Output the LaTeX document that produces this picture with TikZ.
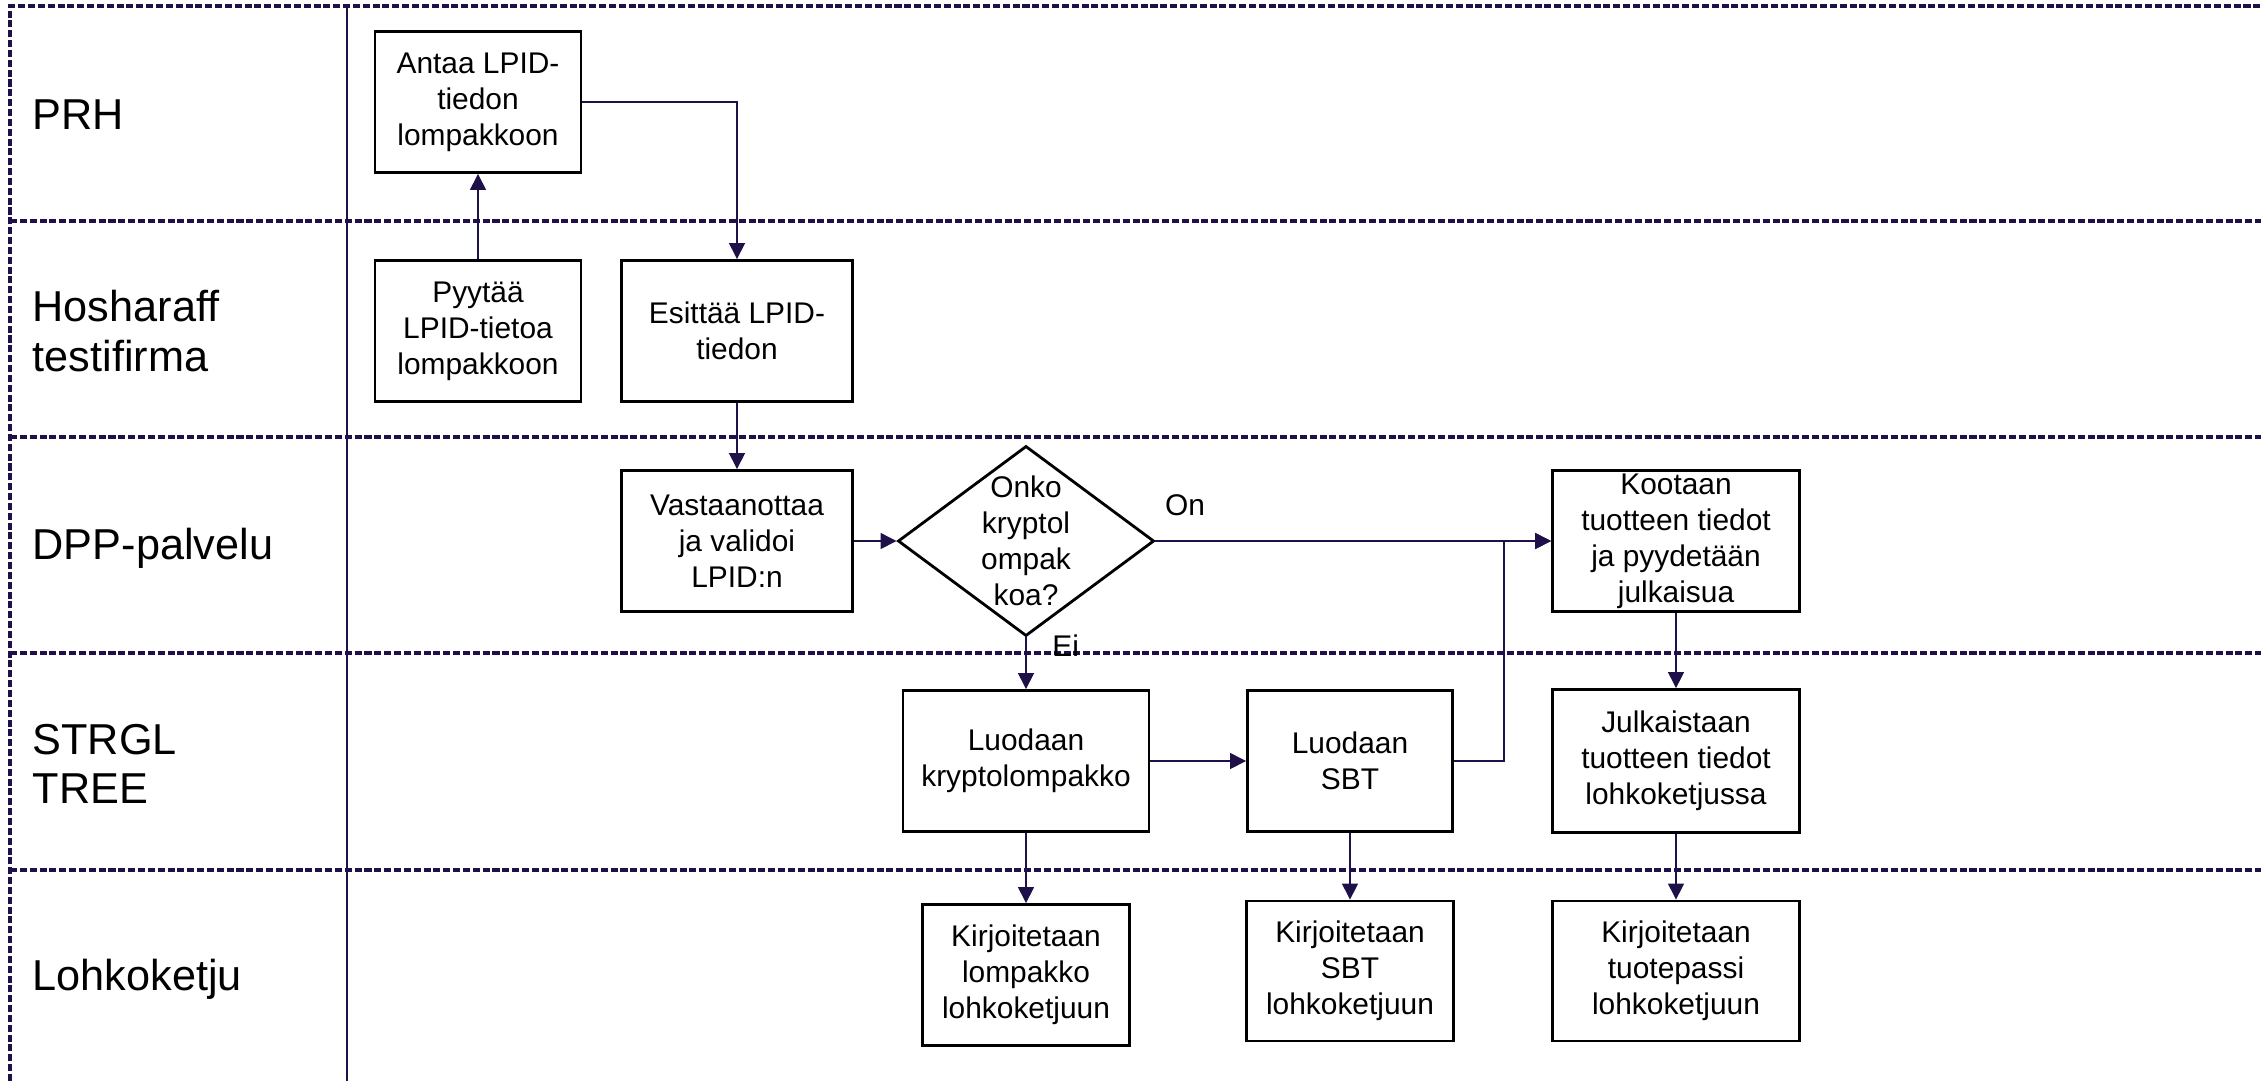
\documentclass[tikz,border=0pt]{standalone}
\usepackage{fontspec}
\setmainfont{Liberation Sans}
\usetikzlibrary{shapes.geometric,arrows.meta}

\definecolor{viiva}{RGB}{32,16,74}
\newcommand{\laatikkofontti}{\fontsize{8.5}{10.2}\selectfont}
\newcommand{\kaistafontti}{\fontsize{12.3}{14}\selectfont}

\tikzset{
  laatikko/.style={draw=black, line width=0.8pt, align=center, inner sep=1pt, font=\laatikkofontti},
  kysymys/.style={diamond, draw=black, line width=0.8pt, minimum width=2.56cm, minimum height=1.9cm, inner sep=0pt},
  nuoli/.style={draw=viiva, line width=0.4pt, -{Triangle[length=4.5pt,width=4.5pt]}},
  kaista/.style={draw=viiva, line width=1pt, dash pattern=on 2pt off 0.8pt},
  kaistanimi/.style={anchor=west, align=left, inner sep=0pt, font=\kaistafontti}
}

\begin{document}
\begin{tikzpicture}[x=0.01cm, y=-0.01cm]
            \useasboundingbox (0,0) rectangle (2261,1081);

            % Kaistat
            \draw[kaista] (10,1081) -- (10,6) -- (2261,6);
            \draw[kaista] (10,221) -- (2261,221);
            \draw[kaista] (10,437) -- (2261,437);
            \draw[kaista] (10,653) -- (2261,653);
            \draw[kaista] (10,870) -- (2261,870);
            \draw[viiva, line width=0.4pt] (347,6) -- (347,1081);

            % Kaistojen nimet
            \node[kaistanimi] (prh) at (32,115) {PRH};
            \node[kaistanimi] (hosh) at (32,331) {Hosharaff\\testifirma};
            \node[kaistanimi] (dpp) at (32,548) {DPP-palvelu};
            \node[kaistanimi] (strgl) at (32,764) {STRGL\\TREE};
            \node[kaistanimi] (lohko) at (32,979) {Lohkoketju};

            % Vaiheet
            \node[laatikko, minimum width=2.06cm, minimum height=1.41cm] (antaa) at (478,102) {Antaa LPID-\\tiedon\\lompakkoon};
            \node[laatikko, minimum width=2.06cm, minimum height=1.41cm] (pyyda) at (478,331) {Pyytää\\LPID-tietoa\\lompakkoon};
            \node[laatikko, minimum width=2.31cm, minimum height=1.41cm] (esittaa) at (737,331) {Esittää LPID-\\tiedon};
            \node[laatikko, minimum width=2.31cm, minimum height=1.41cm] (vast) at (737,541) {Vastaanottaa\\ja validoi\\LPID:n};
            \node[kysymys, label={[align=center, font=\laatikkofontti]center:Onko\\kryptol\\ompak\\koa?}] (kysy) at (1026,541) {};
            \node[laatikko, minimum width=2.47cm, minimum height=1.41cm] (kootaan) at (1676,541) {Kootaan\\tuotteen tiedot\\ja pyydetään\\julkaisua};
            \node[laatikko, minimum width=2.46cm, minimum height=1.41cm] (krypto) at (1026,761) {Luodaan\\kryptolompakko};
            \node[laatikko, minimum width=2.05cm, minimum height=1.41cm] (sbt) at (1350,761) {Luodaan\\SBT};
            \node[laatikko, minimum width=2.47cm, minimum height=1.43cm] (julk) at (1676,761) {Julkaistaan\\tuotteen tiedot\\lohkoketjussa};
            \node[laatikko, minimum width=2.07cm, minimum height=1.41cm] (kirj1) at (1026,975) {Kirjoitetaan\\lompakko\\lohkoketjuun};
            \node[laatikko, minimum width=2.07cm, minimum height=1.40cm] (kirj2) at (1350,971) {Kirjoitetaan\\SBT\\lohkoketjuun};
            \node[laatikko, minimum width=2.47cm, minimum height=1.40cm] (kirj3) at (1676,971) {Kirjoitetaan\\tuotepassi\\lohkoketjuun};

            % Nuolet
            \draw[nuoli] (pyyda.north) -- (antaa.south);
            \draw[nuoli] (antaa.east) -| (esittaa.north);
            \draw[nuoli] (esittaa.south) -- (vast.north);
            \draw[nuoli] (vast.east) -- (kysy.west);
            \draw[nuoli] (kysy.east) -- (kootaan.west);
            \node[font=\laatikkofontti] (on) at (1185,505) {On};
            \draw[nuoli] (kysy.south) -- (krypto.north);
            \node[font=\laatikkofontti, anchor=west] (ei) at (1040,646) {Ei};
            \draw[nuoli] (krypto.east) -- (sbt.west);
            \coordinate (liitos) at (1504,761);
            \draw[nuoli] (sbt.east) -- (liitos) |- (kootaan.west);
            \draw[nuoli] (kootaan.south) -- (julk.north);
            \draw[nuoli] (krypto.south) -- (kirj1.north);
            \draw[nuoli] (sbt.south) -- (kirj2.north);
            \draw[nuoli] (julk.south) -- (kirj3.north);
        \end{tikzpicture}
\end{document}
